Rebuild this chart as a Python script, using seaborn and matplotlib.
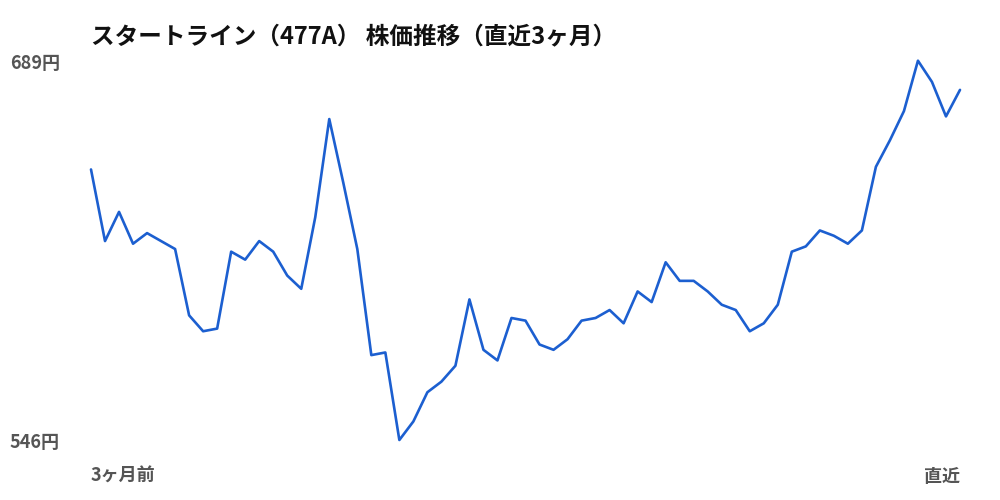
import pandas as pd
import matplotlib.pyplot as plt
import seaborn as sns

# Closing prices (oldest -> latest)
prices = [648, 621, 632, 620, 624, 621, 618, 593, 587, 588,
          617, 614, 621, 617, 608, 603, 630, 667, 643, 618,
          578, 579, 546, 553, 564, 568, 574, 599, 580, 576,
          592, 591, 582, 580, 584, 591, 592, 595, 590, 602,
          598, 613, 606, 606, 602, 597, 595, 587, 590, 597,
          617, 619, 625, 623, 620, 625, 649, 659, 670, 689,
          681, 668, 678]
title = "スタートライン（477A） 株価推移（直近3ヶ月）"
x_labels = ["3ヶ月前", "直近"]
line_color = "#1c5fd0"
label_color = "#555555"

df = pd.DataFrame({"day": range(len(prices)), "price": prices})
y_min, y_max = min(prices), max(prices)

sns.set_theme(style="white")
plt.rcParams['font.family'] = ['Noto Sans CJK JP', 'DejaVu Sans']

fig = plt.figure(figsize=(10, 5), dpi=100)
ax = fig.add_axes([0.091, 0.12, 0.869, 0.7586])
sns.lineplot(data=df, x="day", y="price", color=line_color, linewidth=1.9, ax=ax)
for ln in ax.lines:
    ln.set_clip_on(False)

ax.set_xlim(0, len(prices) - 1)
ax.set_ylim(y_min, y_max)
ax.set_xticks([])
ax.set_yticks([])
ax.set_xlabel("")
ax.set_ylabel("")
sns.despine(ax=ax, left=True, bottom=True)

# min / max price labels on the left edge (nudged down a few px, CJK baseline)
for v in (y_max, y_min):
    yy = ax.transData.transform((0, v))[1] / fig.bbox.height - 3 / 500
    fig.text(0.06, yy, f"{v}円", ha="right", va="center",
             fontsize=13, fontweight="bold", color=label_color)

fig.text(0.091, 1 - 476 / 500, x_labels[0], ha="left", va="center",
         fontsize=13, fontweight="bold", color=label_color)
fig.text(0.960, 1 - 476 / 500, x_labels[1], ha="right", va="center",
         fontsize=13, fontweight="bold", color=label_color)

fig.text(0.091, 1 - 36 / 500, title, ha="left", va="center",
         fontsize=17, fontweight="bold", color="#111111")

fig.savefig("out.png", dpi=100, facecolor="white")
